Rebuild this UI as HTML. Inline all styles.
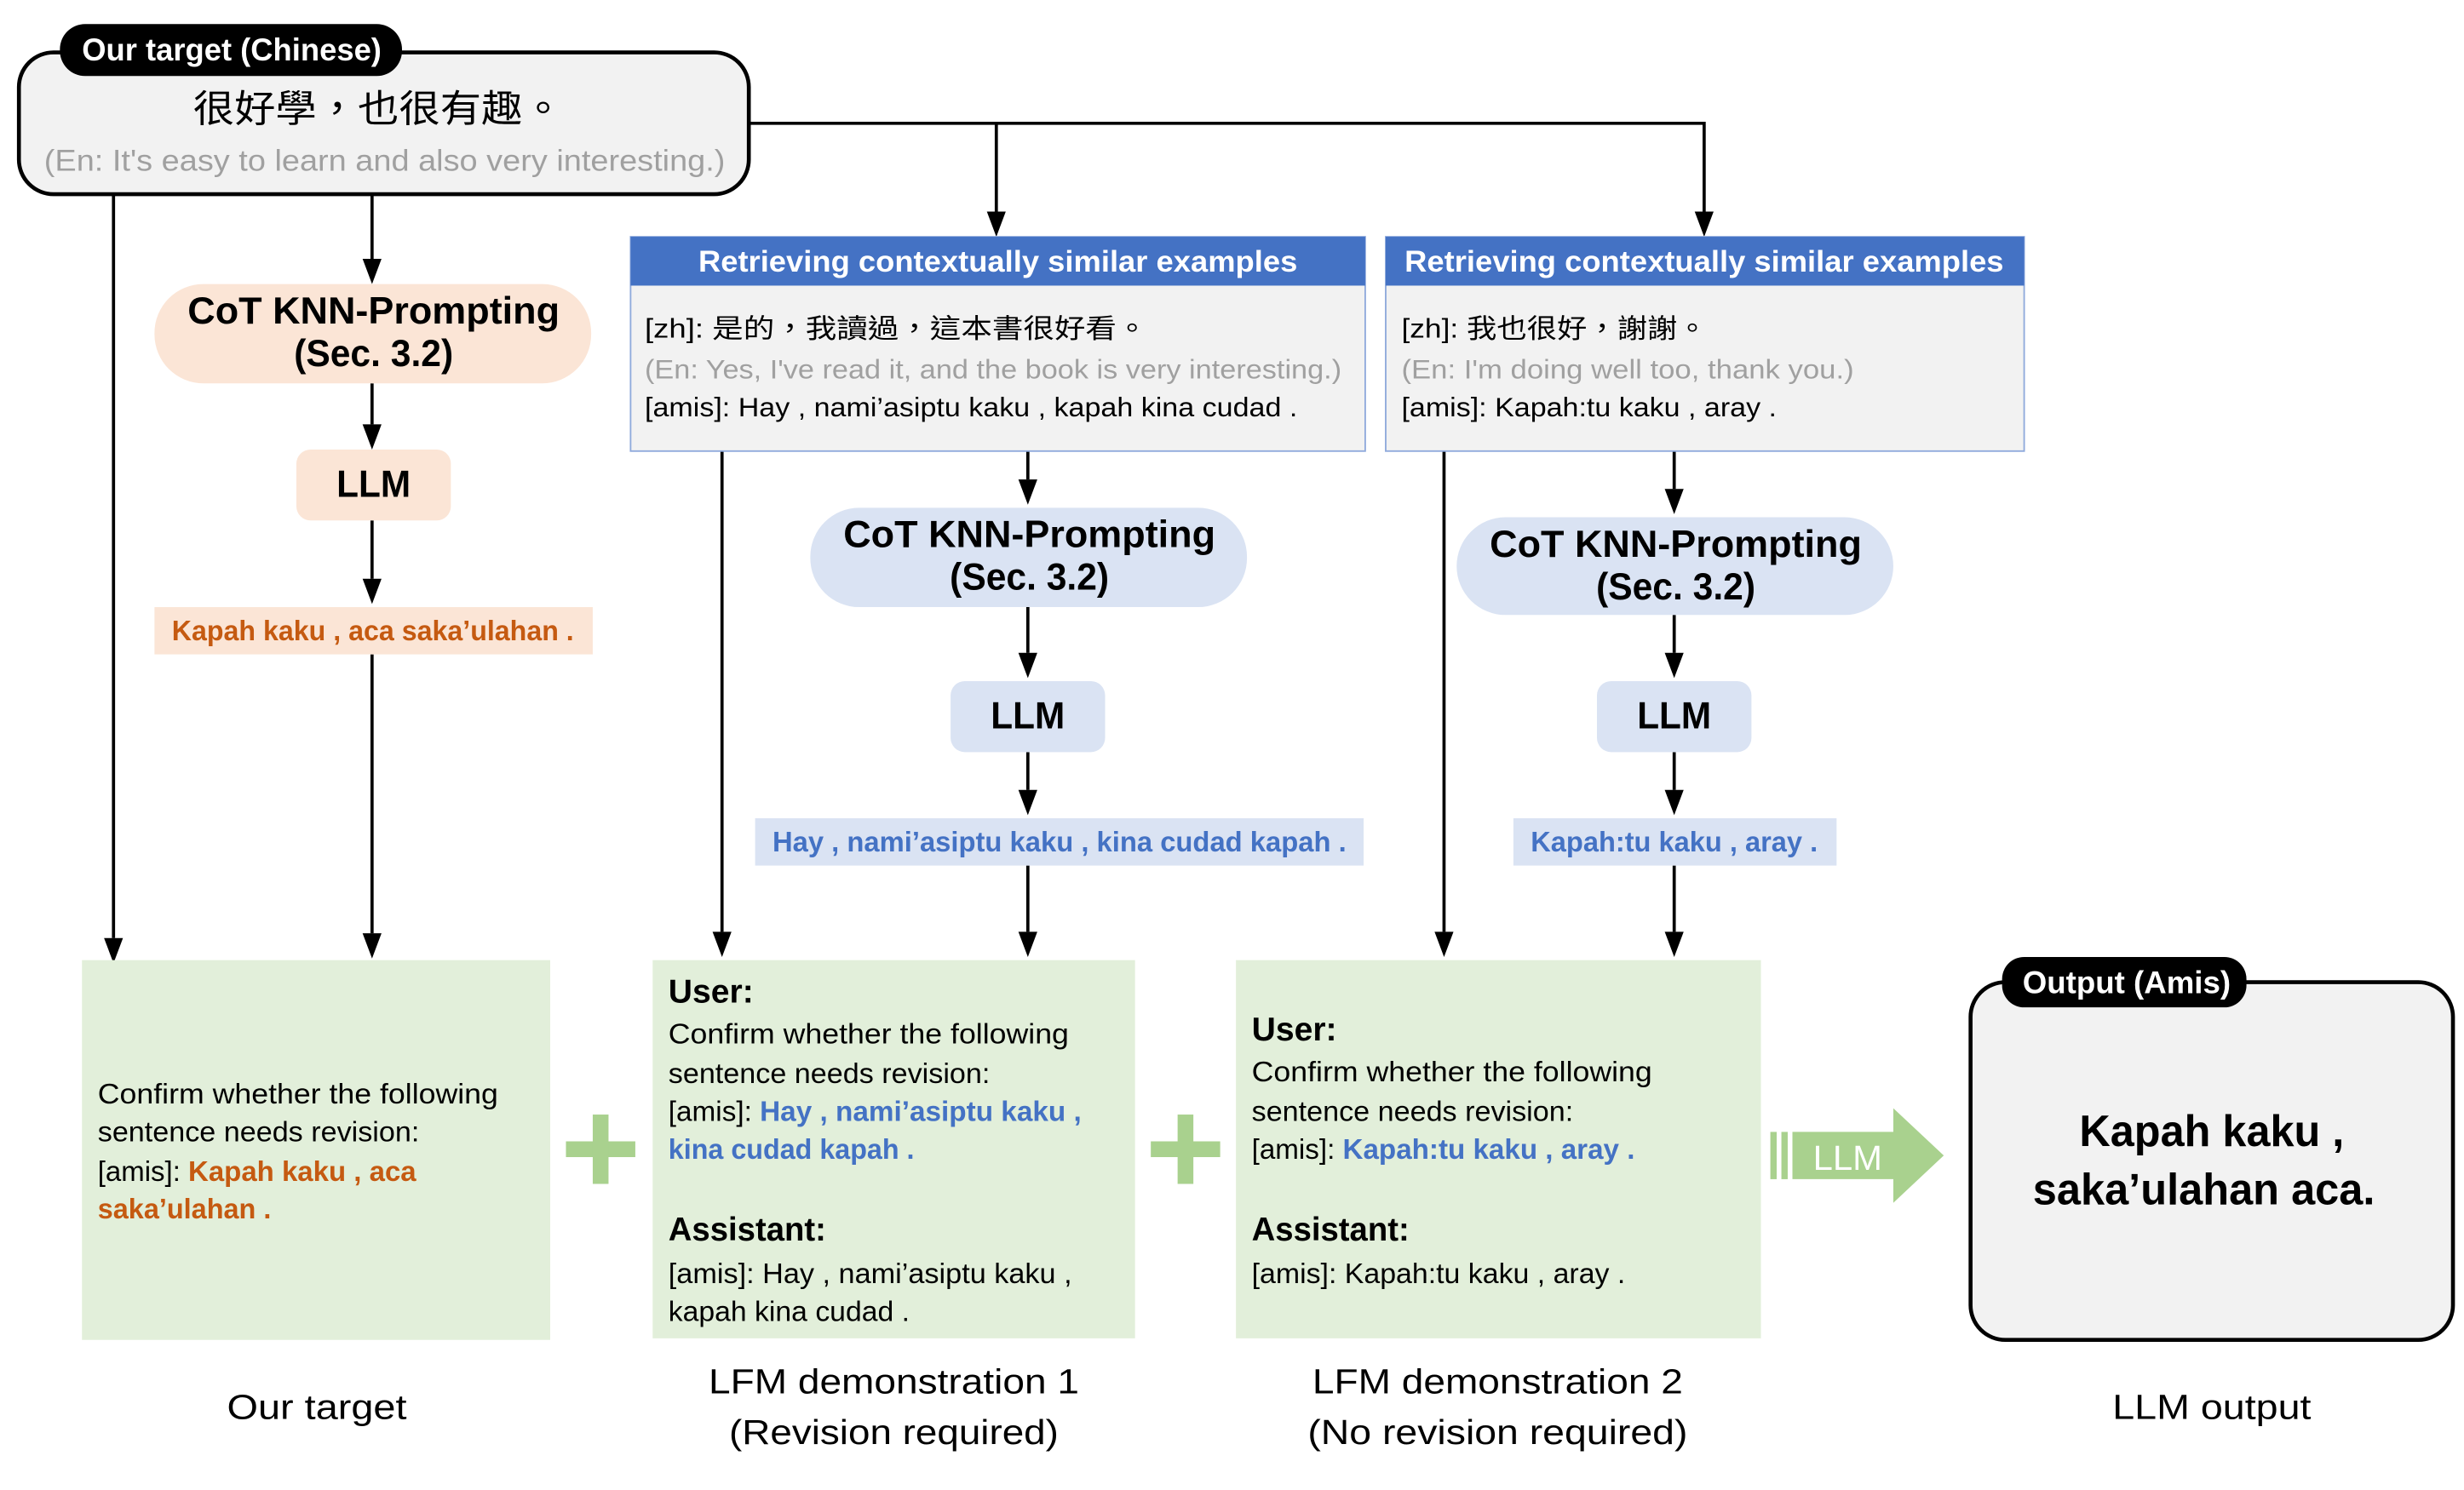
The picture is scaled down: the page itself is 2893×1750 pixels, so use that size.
<!DOCTYPE html>
<html><head><meta charset="utf-8"><style>html,body{margin:0;padding:0;background:#fff}svg{display:block}text{font-family:"Liberation Sans","Noto Sans CJK TC",sans-serif}</style></head><body>
<svg width="2893" height="1750" viewBox="0 0 1563 945" xmlns="http://www.w3.org/2000/svg">
<defs><marker id="a" markerWidth="12" markerHeight="16" refX="6" refY="16" orient="auto-start-reverse" markerUnits="userSpaceOnUse" viewBox="0 0 12 16"><path d="M0,0 L12,0 L6,16 z" fill="#000"/></marker></defs>
<g stroke="#000" stroke-width="2" fill="none">
<polyline points="475,78 1081,78 1081,134"/>
<line x1="632" y1="78" x2="632" y2="134"/>
<line x1="72" y1="123" x2="72" y2="595"/>
<line x1="236" y1="123" x2="236" y2="164"/>
<line x1="236" y1="243" x2="236" y2="269"/>
<line x1="236" y1="330" x2="236" y2="367"/>
<line x1="236" y1="415" x2="236" y2="592"/>
<line x1="652" y1="286" x2="652" y2="304"/>
<line x1="652" y1="385" x2="652" y2="414"/>
<line x1="652" y1="477" x2="652" y2="501"/>
<line x1="652" y1="549" x2="652" y2="591"/>
<line x1="458" y1="286" x2="458" y2="591"/>
<line x1="1062" y1="286" x2="1062" y2="310"/>
<line x1="1062" y1="390" x2="1062" y2="414"/>
<line x1="1062" y1="477" x2="1062" y2="501"/>
<line x1="1062" y1="549" x2="1062" y2="591"/>
<line x1="916" y1="286" x2="916" y2="591"/>
</g>
<g fill="#000">
<path d="M1075,134h12l-6,16z"/><path d="M626,134h12l-6,16z"/><path d="M66,595h12l-6,16z"/>
<path d="M230,164h12l-6,16z"/><path d="M230,269h12l-6,16z"/><path d="M230,367h12l-6,16z"/><path d="M230,592h12l-6,16z"/>
<path d="M646,304h12l-6,16z"/><path d="M646,414h12l-6,16z"/><path d="M646,501h12l-6,16z"/><path d="M646,591h12l-6,16z"/><path d="M452,591h12l-6,16z"/>
<path d="M1056,310h12l-6,16z"/><path d="M1056,414h12l-6,16z"/><path d="M1056,501h12l-6,16z"/><path d="M1056,591h12l-6,16z"/><path d="M910,591h12l-6,16z"/>
</g>
<!-- target box -->
<rect x="12" y="33" width="463" height="90" rx="22" fill="#f2f2f2" stroke="#000" stroke-width="2.5"/>
<rect x="38" y="15" width="217" height="33" rx="16" fill="#000"/>
<text x="147" y="38" text-anchor="middle" fill="#fff" font-size="20" font-weight="bold" textLength="190" lengthAdjust="spacingAndGlyphs">Our target (Chinese)</text>
<text x="240" y="77" text-anchor="middle" font-size="24" textLength="235" lengthAdjust="spacingAndGlyphs">很好學，也很有趣。</text>
<text x="244" y="108" text-anchor="middle" font-size="19" fill="#a0a0a0" textLength="432" lengthAdjust="spacingAndGlyphs">(En: It's easy to learn and also very interesting.)</text>
<!-- left column -->
<rect x="98" y="180" width="277" height="63" rx="31" fill="#fbe5d6"/>
<text x="237" y="205" text-anchor="middle" font-size="24" font-weight="bold" textLength="236" lengthAdjust="spacingAndGlyphs">CoT KNN-Prompting</text>
<text x="237" y="232" text-anchor="middle" font-size="24" font-weight="bold" textLength="101" lengthAdjust="spacingAndGlyphs">(Sec. 3.2)</text>
<rect x="188" y="285" width="98" height="45" rx="9" fill="#fbe5d6"/>
<text x="237" y="315" text-anchor="middle" font-size="24" font-weight="bold" textLength="47" lengthAdjust="spacingAndGlyphs">LLM</text>
<rect x="98" y="385" width="278" height="30" fill="#fbe5d6"/>
<text x="109" y="406" font-size="18" font-weight="bold" fill="#c55a11" textLength="255" lengthAdjust="spacingAndGlyphs">Kapah kaku , aca saka’ulahan .</text>
<!-- retrieve 1 -->
<rect x="400" y="150" width="466" height="136" fill="#f2f2f2" stroke="#8faadc" stroke-width="1"/>
<rect x="400" y="150" width="466" height="31" fill="#4472c4"/>
<text x="633" y="172" text-anchor="middle" fill="#fff" font-size="19" font-weight="bold" textLength="380" lengthAdjust="spacingAndGlyphs">Retrieving contextually similar examples</text>
<text x="409" y="214" font-size="17" textLength="319" lengthAdjust="spacingAndGlyphs">[zh]: 是的，我讀過，這本書很好看。</text>
<text x="409" y="240" font-size="17" fill="#a0a0a0" textLength="442" lengthAdjust="spacingAndGlyphs">(En: Yes, I've read it, and the book is very interesting.)</text>
<text x="409" y="264" font-size="17" textLength="414" lengthAdjust="spacingAndGlyphs">[amis]: Hay , nami’asiptu kaku , kapah kina cudad .</text>
<!-- retrieve 2 -->
<rect x="879" y="150" width="405" height="136" fill="#f2f2f2" stroke="#8faadc" stroke-width="1"/>
<rect x="879" y="150" width="405" height="31" fill="#4472c4"/>
<text x="1081" y="172" text-anchor="middle" fill="#fff" font-size="19" font-weight="bold" textLength="380" lengthAdjust="spacingAndGlyphs">Retrieving contextually similar examples</text>
<text x="889" y="214" font-size="17" textLength="194" lengthAdjust="spacingAndGlyphs">[zh]: 我也很好，謝謝。</text>
<text x="889" y="240" font-size="17" fill="#a0a0a0" textLength="287" lengthAdjust="spacingAndGlyphs">(En: I'm doing well too, thank you.)</text>
<text x="889" y="264" font-size="17" textLength="238" lengthAdjust="spacingAndGlyphs">[amis]: Kapah:tu kaku , aray .</text>
<!-- middle column -->
<rect x="514" y="322" width="277" height="63" rx="31" fill="#dae3f3"/>
<text x="653" y="347" text-anchor="middle" font-size="24" font-weight="bold" textLength="236" lengthAdjust="spacingAndGlyphs">CoT KNN-Prompting</text>
<text x="653" y="374" text-anchor="middle" font-size="24" font-weight="bold" textLength="101" lengthAdjust="spacingAndGlyphs">(Sec. 3.2)</text>
<rect x="603" y="432" width="98" height="45" rx="9" fill="#dae3f3"/>
<text x="652" y="462" text-anchor="middle" font-size="24" font-weight="bold" textLength="47" lengthAdjust="spacingAndGlyphs">LLM</text>
<rect x="479" y="519" width="386" height="30" fill="#dae3f3"/>
<text x="490" y="540" font-size="18" font-weight="bold" fill="#4472c4" textLength="364" lengthAdjust="spacingAndGlyphs">Hay , nami’asiptu kaku , kina cudad kapah .</text>
<!-- right column -->
<rect x="924" y="328" width="277" height="62" rx="31" fill="#dae3f3"/>
<text x="1063" y="353" text-anchor="middle" font-size="24" font-weight="bold" textLength="236" lengthAdjust="spacingAndGlyphs">CoT KNN-Prompting</text>
<text x="1063" y="380" text-anchor="middle" font-size="24" font-weight="bold" textLength="101" lengthAdjust="spacingAndGlyphs">(Sec. 3.2)</text>
<rect x="1013" y="432" width="98" height="45" rx="9" fill="#dae3f3"/>
<text x="1062" y="462" text-anchor="middle" font-size="24" font-weight="bold" textLength="47" lengthAdjust="spacingAndGlyphs">LLM</text>
<rect x="960" y="519" width="205" height="30" fill="#dae3f3"/>
<text x="971" y="540" font-size="18" font-weight="bold" fill="#4472c4" textLength="182" lengthAdjust="spacingAndGlyphs">Kapah:tu kaku , aray .</text>
<!-- green boxes -->
<rect x="52" y="609" width="297" height="241" fill="#e2efda"/>
<text x="62" y="700" font-size="18" textLength="254" lengthAdjust="spacingAndGlyphs">Confirm whether the following</text>
<text x="62" y="724" font-size="18" textLength="204" lengthAdjust="spacingAndGlyphs">sentence needs revision:</text>
<text x="62" y="749" font-size="18" textLength="202" lengthAdjust="spacingAndGlyphs">[amis]: <tspan fill="#c55a11" font-weight="bold">Kapah kaku , aca</tspan></text>
<text x="62" y="773" font-size="18" font-weight="bold" fill="#c55a11" textLength="110" lengthAdjust="spacingAndGlyphs">saka’ulahan .</text>

<rect x="414" y="609" width="306" height="240" fill="#e2efda"/>
<text x="424" y="636" font-size="21" font-weight="bold" textLength="54" lengthAdjust="spacingAndGlyphs">User:</text>
<text x="424" y="662" font-size="18" textLength="254" lengthAdjust="spacingAndGlyphs">Confirm whether the following</text>
<text x="424" y="687" font-size="18" textLength="204" lengthAdjust="spacingAndGlyphs">sentence needs revision:</text>
<text x="424" y="711" font-size="18" textLength="262" lengthAdjust="spacingAndGlyphs">[amis]: <tspan fill="#4472c4" font-weight="bold">Hay , nami’asiptu kaku ,</tspan></text>
<text x="424" y="735" font-size="18" font-weight="bold" fill="#4472c4" textLength="156" lengthAdjust="spacingAndGlyphs">kina cudad kapah .</text>
<text x="424" y="787" font-size="21" font-weight="bold" textLength="100" lengthAdjust="spacingAndGlyphs">Assistant:</text>
<text x="424" y="814" font-size="18" textLength="256" lengthAdjust="spacingAndGlyphs">[amis]: Hay , nami’asiptu kaku ,</text>
<text x="424" y="838" font-size="18" textLength="153" lengthAdjust="spacingAndGlyphs">kapah kina cudad .</text>

<rect x="784" y="609" width="333" height="240" fill="#e2efda"/>
<text x="794" y="660" font-size="21" font-weight="bold" textLength="54" lengthAdjust="spacingAndGlyphs">User:</text>
<text x="794" y="686" font-size="18" textLength="254" lengthAdjust="spacingAndGlyphs">Confirm whether the following</text>
<text x="794" y="711" font-size="18" textLength="204" lengthAdjust="spacingAndGlyphs">sentence needs revision:</text>
<text x="794" y="735" font-size="18" textLength="243" lengthAdjust="spacingAndGlyphs">[amis]: <tspan fill="#4472c4" font-weight="bold">Kapah:tu kaku , aray .</tspan></text>
<text x="794" y="787" font-size="21" font-weight="bold" textLength="100" lengthAdjust="spacingAndGlyphs">Assistant:</text>
<text x="794" y="814" font-size="18" textLength="237" lengthAdjust="spacingAndGlyphs">[amis]: Kapah:tu kaku , aray .</text>
<!-- plus signs -->
<g fill="#a9d18e">
<rect x="359" y="724" width="44" height="10"/><rect x="376" y="707" width="10" height="44"/>
<rect x="730" y="724" width="44" height="10"/><rect x="747" y="707" width="10" height="44"/>
</g>
<!-- LLM arrow -->
<g fill="#a9d18e">
<rect x="1123" y="718" width="4" height="30"/><rect x="1130" y="718" width="4" height="30"/>
<path d="M1137,718 H1201 V703 L1233,733 L1201,763 V748 H1137 z"/>
</g>
<text x="1172" y="742" text-anchor="middle" fill="#fff" font-size="22" textLength="44" lengthAdjust="spacingAndGlyphs">LLM</text>
<!-- output -->
<rect x="1250" y="623" width="306" height="227" rx="22" fill="#f2f2f2" stroke="#000" stroke-width="2.5"/>
<rect x="1270" y="607" width="155" height="32" rx="14" fill="#000"/>
<text x="1349" y="630" text-anchor="middle" fill="#fff" font-size="20" font-weight="bold" textLength="132" lengthAdjust="spacingAndGlyphs">Output (Amis)</text>
<text x="1403" y="727" text-anchor="middle" font-size="28" font-weight="bold" textLength="168" lengthAdjust="spacingAndGlyphs">Kapah kaku ,</text>
<text x="1398" y="764" text-anchor="middle" font-size="28" font-weight="bold" textLength="217" lengthAdjust="spacingAndGlyphs">saka’ulahan aca.</text>
<!-- captions -->
<text x="201" y="900" text-anchor="middle" font-size="22" textLength="114" lengthAdjust="spacingAndGlyphs">Our target</text>
<text x="567" y="884" text-anchor="middle" font-size="22" textLength="235" lengthAdjust="spacingAndGlyphs">LFM demonstration 1</text>
<text x="567" y="916" text-anchor="middle" font-size="22" textLength="209" lengthAdjust="spacingAndGlyphs">(Revision required)</text>
<text x="950" y="884" text-anchor="middle" font-size="22" textLength="235" lengthAdjust="spacingAndGlyphs">LFM demonstration 2</text>
<text x="950" y="916" text-anchor="middle" font-size="22" textLength="241" lengthAdjust="spacingAndGlyphs">(No revision required)</text>
<text x="1403" y="900" text-anchor="middle" font-size="22" textLength="126" lengthAdjust="spacingAndGlyphs">LLM output</text>
</svg>
</body></html>
